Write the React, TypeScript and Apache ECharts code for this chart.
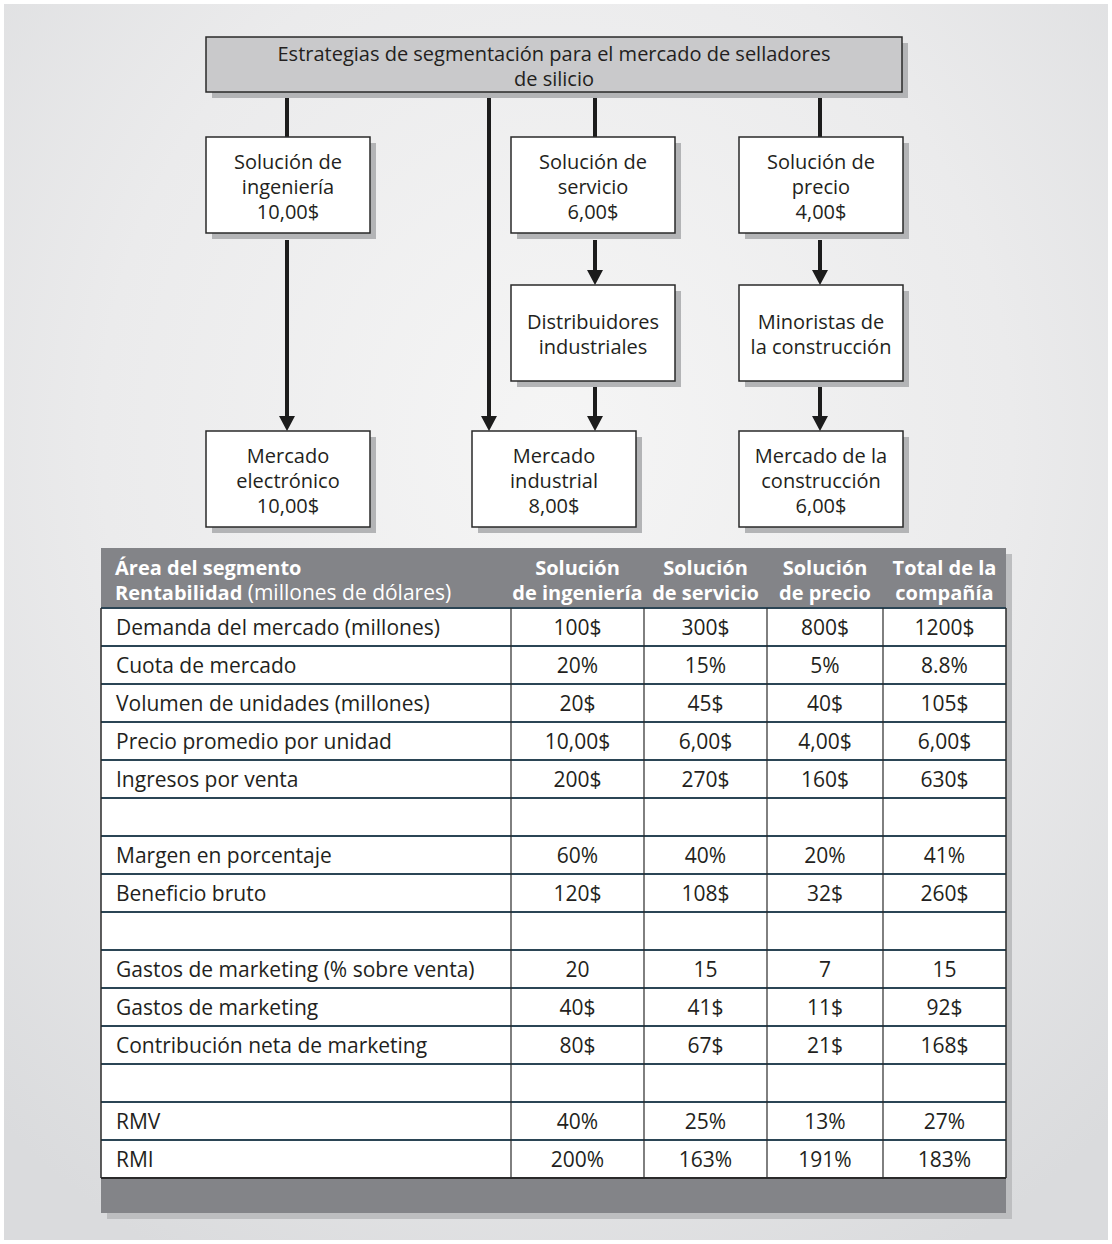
import React, { useEffect, useRef } from "react";
import * as echarts from "echarts";

// ---------- data ----------
const titleLines = ["Estrategias de segmentación para el mercado de selladores", "de silicio"];

const solutionNodes = [
  ["Solución de", "ingeniería", "10,00$"],
  ["Solución de", "servicio", "6,00$"],
  ["Solución de", "precio", "4,00$"],
];
const channelNodes = [
  ["Distribuidores", "industriales"],
  ["Minoristas de", "la construcción"],
];
const marketNodes = [
  ["Mercado", "electrónico", "10,00$"],
  ["Mercado", "industrial", "8,00$"],
  ["Mercado de la", "construcción", "6,00$"],
];

const headerLine1 = "Área del segmento";
const headerLine2Bold = "Rentabilidad";
const headerLine2Normal = " (millones de dólares)";
const columnHeaders = [
  ["Solución", "de ingeniería"],
  ["Solución", "de servicio"],
  ["Solución", "de precio"],
  ["Total de la", "compañía"],
];
const rowLabels = [
  "Demanda del mercado (millones)",
  "Cuota de mercado",
  "Volumen de unidades (millones)",
  "Precio promedio por unidad",
  "Ingresos por venta",
  "",
  "Margen en porcentaje",
  "Beneficio bruto",
  "",
  "Gastos de marketing (% sobre venta)",
  "Gastos de marketing",
  "Contribución neta de marketing",
  "",
  "RMV",
  "RMI",
];
const ingenieria = ["100$", "20%", "20$", "10,00$", "200$", "", "60%", "120$", "", "20", "40$", "80$", "", "40%", "200%"];
const servicio = ["300$", "15%", "45$", "6,00$", "270$", "", "40%", "108$", "", "15", "41$", "67$", "", "25%", "163%"];
const precio = ["800$", "5%", "40$", "4,00$", "160$", "", "20%", "32$", "", "7", "11$", "21$", "", "13%", "191%"];
const total = ["1200$", "8.8%", "105$", "6,00$", "630$", "", "41%", "260$", "", "15", "92$", "168$", "", "27%", "183%"];

// ---------- layout ----------
const FONT = '"Open Sans", "Noto Sans", sans-serif';
const FS = 21;
const FS_BOX = 20;
const FS_B = 20;
const TXT = "#231f20";
const BORDER = "#2a2a2a";
const SHADOW = "#b3b4b6";
const DARK = "#838488";

const BOX_W = 164;
const solutionLayout = [{ x: 206, y: 137 }, { x: 511, y: 137 }, { x: 739, y: 137 }];
const channelLayout = [{ x: 511, y: 285 }, { x: 739, y: 285 }];
const marketLayout = [{ x: 206, y: 431 }, { x: 472, y: 431 }, { x: 739, y: 431 }];
const BOX_H = 96;

const T_X = 101, T_W = 905, T_HEAD_Y = 548, T_HEAD_H = 60, ROW_H = 38, FOOT_H = 35;
const colEdges = [511, 644, 767, 883, 1006];

function box(x: number, y: number, w: number, h: number, lines: string[], fill = "#ffffff", lh = 25) {
  return [
    { type: "rect", shape: { x: x + 6, y: y + 6, width: w, height: h }, style: { fill: SHADOW }, silent: true },
    { type: "rect", shape: { x, y, width: w, height: h }, style: { fill, stroke: BORDER, lineWidth: 1.5 }, silent: true },
    {
      type: "text",
      x: x + w / 2,
      y: y + h / 2 + 1,
      style: {
        text: lines.join("\n"),
        align: "center",
        verticalAlign: "middle",
        fontSize: FS_BOX,
        fontFamily: FONT,
        lineHeight: lh,
        fill: TXT,
      },
      silent: true,
    },
  ];
}

function vline(x: number, y1: number, y2: number) {
  return { type: "line", shape: { x1: x, y1, x2: x, y2 }, style: { stroke: "#1c1c1c", lineWidth: 4 }, silent: true };
}
function arrow(x: number, y1: number, tip: number) {
  return [
    vline(x, y1, tip - 12),
    { type: "polygon", shape: { points: [[x - 8, tip - 15], [x + 8, tip - 15], [x, tip]] }, style: { fill: "#1c1c1c" }, silent: true },
  ];
}

function buildGraphics() {
  const els: any[] = [];
  // background panel
  els.push({
    type: "rect",
    shape: { x: 4, y: 4, width: 1104, height: 1236 },
    style: {
      fill: {
        type: "radial",
        x: 0.5,
        y: 0.35,
        r: 0.75,
        colorStops: [
          { offset: 0, color: "#f5f5f5" },
          { offset: 0.55, color: "#ebebec" },
          { offset: 1, color: "#dadbdd" },
        ],
      },
    },
    silent: true,
  });

  // connectors
  els.push(vline(287, 98, 137));
  els.push(...arrow(287, 240, 431));
  els.push(...arrow(489, 98, 431));
  els.push(vline(595, 98, 137));
  els.push(...arrow(595, 240, 285));
  els.push(...arrow(595, 387, 431));
  els.push(vline(820, 98, 137));
  els.push(...arrow(820, 240, 285));
  els.push(...arrow(820, 387, 431));

  // title box
  els.push(...box(206, 37, 696, 55, titleLines, "#c9c9cb", 25));
  solutionNodes.forEach((l, i) => els.push(...box(solutionLayout[i].x, solutionLayout[i].y, BOX_W, BOX_H, l)));
  channelNodes.forEach((l, i) => els.push(...box(channelLayout[i].x, channelLayout[i].y, BOX_W, BOX_H, l)));
  marketNodes.forEach((l, i) => els.push(...box(marketLayout[i].x, marketLayout[i].y, BOX_W, BOX_H, l)));

  // table
  const nRows = rowLabels.length;
  const bodyTop = T_HEAD_Y + T_HEAD_H;
  const bodyBottom = bodyTop + nRows * ROW_H;
  const footBottom = bodyBottom + FOOT_H;
  els.push({ type: "rect", shape: { x: T_X + 6, y: T_HEAD_Y + 6, width: T_W, height: footBottom - T_HEAD_Y }, style: { fill: "#bdbec0" }, silent: true });
  els.push({ type: "rect", shape: { x: T_X, y: T_HEAD_Y, width: T_W, height: T_HEAD_H }, style: { fill: DARK }, silent: true });
  els.push({ type: "rect", shape: { x: T_X, y: bodyTop, width: T_W, height: nRows * ROW_H }, style: { fill: "#ffffff" }, silent: true });
  els.push({ type: "rect", shape: { x: T_X, y: bodyBottom, width: T_W, height: FOOT_H }, style: { fill: DARK }, silent: true });

  // header texts
  els.push({
    type: "text",
    x: 115,
    y: 567,
    style: { text: headerLine1, fontSize: FS_B, fontWeight: "bold", fontFamily: FONT, fill: "#ffffff", align: "left", verticalAlign: "middle" },
    silent: true,
  });
  els.push({
    type: "text",
    x: 115,
    y: 592,
    style: {
      text: `{b|${headerLine2Bold}}{n|${headerLine2Normal}}`,
      align: "left",
      verticalAlign: "middle",
      rich: {
        b: { fontSize: FS_B, fontWeight: "bold", fontFamily: FONT, fill: "#ffffff" },
        n: { fontSize: FS, fontWeight: "normal", fontFamily: FONT, fill: "#ffffff" },
      },
    },
    silent: true,
  });
  columnHeaders.forEach((lines, c) => {
    const cx = (colEdges[c] + colEdges[c + 1]) / 2;
    els.push({
      type: "text",
      x: cx,
      y: 580,
      style: { text: lines.join("\n"), fontSize: FS_B, fontWeight: "bold", fontFamily: FONT, fill: "#ffffff", align: "center", verticalAlign: "middle", lineHeight: 25 },
      silent: true,
    });
  });

  // grid lines
  for (let r = 0; r <= nRows; r++) {
    const y = bodyTop + r * ROW_H;
    els.push({ type: "line", shape: { x1: T_X, y1: y, x2: T_X + T_W, y2: y }, style: { stroke: r === nRows ? "#2a2a2a" : "#2b4555", lineWidth: 2 }, silent: true });
  }
  for (let c = 0; c < colEdges.length - 1; c++) {
    els.push({ type: "line", shape: { x1: colEdges[c], y1: bodyTop, x2: colEdges[c], y2: bodyBottom }, style: { stroke: "#2a2a2a", lineWidth: 1.2 }, silent: true });
  }
  els.push({ type: "line", shape: { x1: T_X, y1: bodyTop, x2: T_X, y2: bodyBottom }, style: { stroke: "#2a2a2a", lineWidth: 1.5 }, silent: true });
  els.push({ type: "line", shape: { x1: T_X + T_W, y1: bodyTop, x2: T_X + T_W, y2: bodyBottom }, style: { stroke: "#2a2a2a", lineWidth: 1.5 }, silent: true });

  // cells
  const cols = [ingenieria, servicio, precio, total];
  rowLabels.forEach((label, r) => {
    const cy = bodyTop + r * ROW_H + ROW_H / 2;
    if (label) {
      els.push({
        type: "text",
        x: 116,
        y: cy,
        style: { text: label, fontSize: FS, fontFamily: FONT, fill: TXT, align: "left", verticalAlign: "middle" },
        silent: true,
      });
    }
    cols.forEach((col, c) => {
      if (!col[r]) return;
      els.push({
        type: "text",
        x: (colEdges[c] + colEdges[c + 1]) / 2,
        y: cy,
        style: { text: col[r], fontSize: FS, fontFamily: FONT, fill: TXT, align: "center", verticalAlign: "middle" },
        silent: true,
      });
    });
  });
  return els;
}

export default function App() {
  const ref = useRef<HTMLDivElement>(null);
  useEffect(() => {
    if (!ref.current) return;
    const chart = echarts.init(ref.current, undefined, { renderer: "svg" });
    chart.setOption({
      animation: false,
      backgroundColor: "#ffffff",
      graphic: { elements: buildGraphics() },
    });
    return () => chart.dispose();
  }, []);
  return <div ref={ref} style={{ position: "absolute", left: 0, top: 0, width: 1112, height: 1244 }} />;
}
